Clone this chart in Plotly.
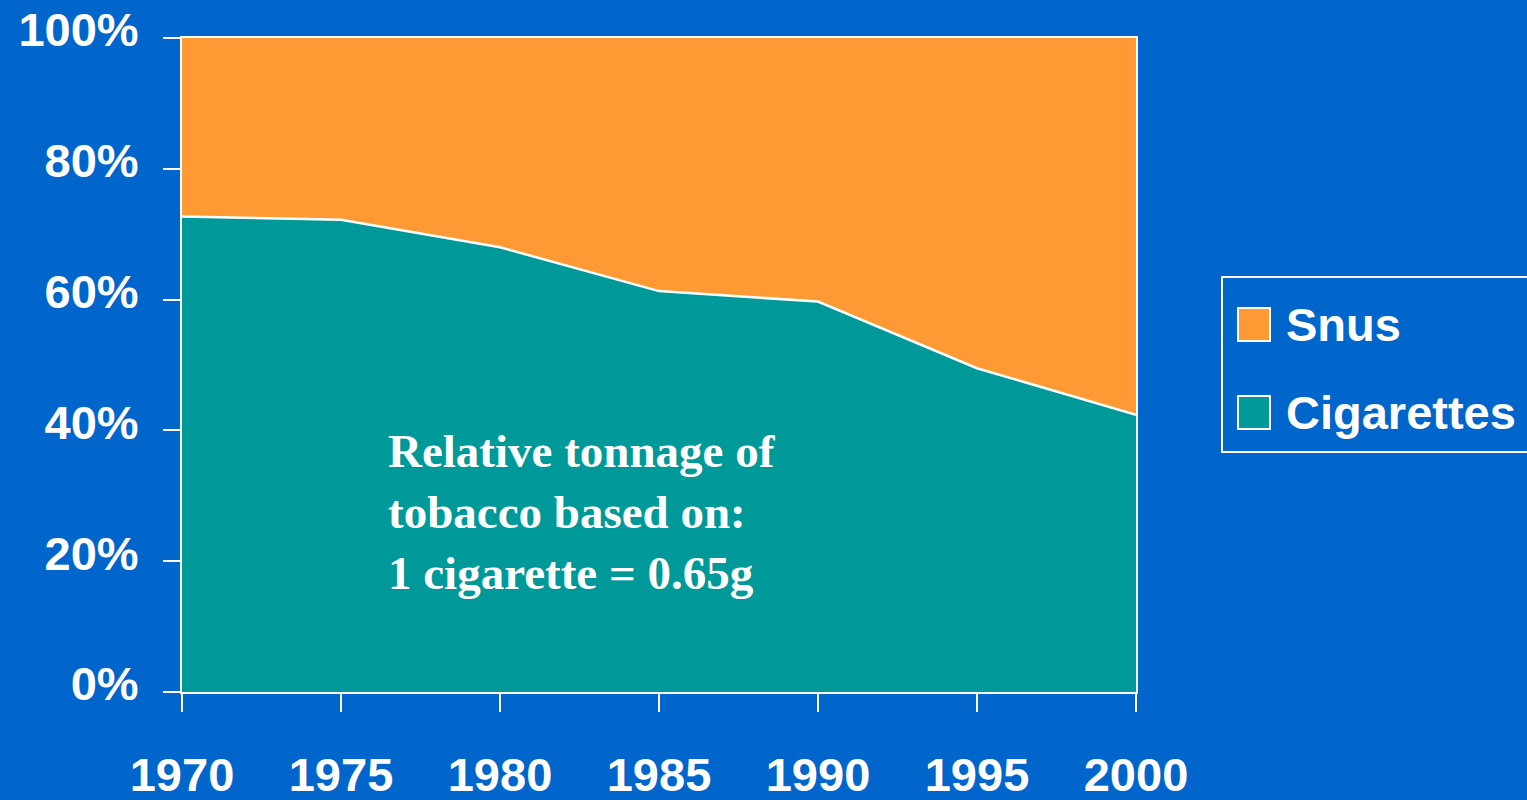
import plotly.graph_objects as go

years = [1970, 1975, 1980, 1985, 1990, 1995, 2000]
cigarettes = [72.7, 72.2, 68.0, 61.3, 59.7, 49.5, 42.4]
snus = [27.3, 27.8, 32.0, 38.7, 40.3, 50.5, 57.6]
y_ticks = [0, 20, 40, 60, 80, 100]
y_tick_labels = ["0%", "20%", "40%", "60%", "80%", "100%"]
series_names = ["Snus", "Cigarettes"]

BG = "#0066CC"
ORANGE = "#FF9933"
TEAL = "#009999"
W = 1527
H = 800
L, R, T, B = 182, 391, 38, 108
PW = W - L - R
PH = H - T - B

fig = go.Figure()
fig.add_trace(go.Scatter(x=years, y=cigarettes, name="Cigarettes", stackgroup="one",
                         mode="lines", line=dict(color="white", width=2.5),
                         fillcolor=TEAL, showlegend=False))
fig.add_trace(go.Scatter(x=years, y=snus, name="Snus", stackgroup="one",
                         mode="lines", line=dict(color="white", width=0),
                         fillcolor=ORANGE, showlegend=False))

tickfont = dict(family="Liberation Sans, Arial, sans-serif", size=47, color="white",
                weight="bold")

fig.update_layout(
    width=W, height=H,
    margin=dict(l=L, r=R, t=T, b=B, pad=0),
    paper_bgcolor=BG, plot_bgcolor=BG,
    showlegend=False,
    font=dict(family="Liberation Sans, Arial, sans-serif", color="white"),
    xaxis=dict(range=[1970, 2000], tickvals=years, ticktext=[str(y) for y in years],
               showgrid=False, zeroline=False, showline=True, linecolor="white",
               linewidth=2, mirror=True, ticks="outside", ticklen=18, tickwidth=2,
               tickcolor="white", tickfont=tickfont, ticklabelstandoff=23,
               automargin=False),
    yaxis=dict(range=[0, 100], tickvals=y_ticks, ticktext=y_tick_labels,
               showgrid=False, zeroline=False, showline=True, linecolor="white",
               linewidth=2, mirror=True, ticks="outside", ticklen=17, tickwidth=2,
               tickcolor="white", tickfont=tickfont, ticklabelstandoff=15,
               ticklabelshift=-8, automargin=False),
)

fig.add_annotation(
    text="<b>Relative tonnage of<br>tobacco based on:<br>1 cigarette = 0.65g</b>",
    xref="paper", yref="paper",
    x=(386 - L) / PW, y=1 - (423 - T) / PH,
    xanchor="left", yanchor="top", align="left", showarrow=False,
    font=dict(family="Liberation Serif, Times New Roman, serif", size=47, color="white"),
)

# Legend (drawn manually)
def px_x(px):
    return (px - L) / PW

def px_y(py):
    return 1 - (py - T) / PH

fig.add_shape(type="rect", xref="paper", yref="paper",
              x0=px_x(1222), x1=px_x(1540), y0=px_y(452), y1=px_y(277),
              line=dict(color="white", width=2), fillcolor=BG)
legend_colors = [ORANGE, TEAL]
legend_y = [324, 412]
for name, col, cy in zip(series_names, legend_colors, legend_y):
    fig.add_shape(type="rect", xref="paper", yref="paper",
                  x0=px_x(1238), x1=px_x(1270), y0=px_y(cy + 17), y1=px_y(cy - 16),
                  line=dict(color="white", width=2), fillcolor=col)
    fig.add_annotation(text="<b>" + name + "</b>", xref="paper", yref="paper",
                       x=px_x(1284), y=px_y(cy), xanchor="left", yanchor="middle",
                       showarrow=False,
                       font=dict(family="Liberation Sans, Arial, sans-serif", size=47,
                                 color="white"))

fig.write_html("out.html")
